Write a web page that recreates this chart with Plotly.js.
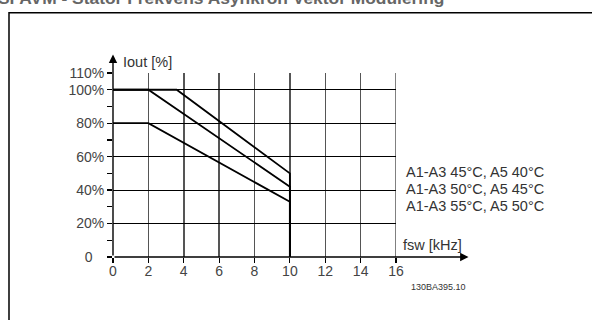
<!DOCTYPE html>
<html>
<head>
<meta charset="utf-8">
<script src="https://cdn.plot.ly/plotly-3.0.1.min.js"></script>
<style>html,body{margin:0;padding:0;background:#fff;}#chart{width:592px;height:320px;}</style>
</head>
<body>
<div id="chart"></div>
<script>
// Data (fsw in kHz, Iout in %)
const seriesNames = ["A1-A3 45°C, A5 40°C", "A1-A3 50°C, A5 45°C", "A1-A3 55°C, A5 50°C"];
const fsw45 = [0, 3.6, 10, 10];
const iout45 = [100, 100, 50, 0];
const fsw50 = [0, 2, 10, 10];
const iout50 = [100, 100, 42, 0];
const fsw55 = [0, 2, 10, 10];
const iout55 = [80, 80, 33, 0];
const xTicks = [0, 2, 4, 6, 8, 10, 12, 14, 16];
const yTicks = [0, 20, 40, 60, 80, 100, 110];
const yTickText = ["0\u00a0\u00a0\u00a0", "20%", "40%", "60%", "80%", "100%", "110%"];

const font = "Liberation Sans, Arial, sans-serif";
const lineStyle = {color: "#000", width: 1.8};
const traces = [
  {x: fsw45, y: iout45, name: seriesNames[0]},
  {x: fsw50, y: iout50, name: seriesNames[1]},
  {x: fsw55, y: iout55, name: seriesNames[2]}
].map(t => Object.assign(t, {type: "scatter", mode: "lines", line: lineStyle, showlegend: false, hoverinfo: "skip", cliponaxis: false}));

const txt = {family: font, size: 14.5, color: "#333"};
const annotations = [
  {xref: "x", yref: "y", axref: "x", ayref: "y", x: 0, y: 121, ax: 0, ay: 0, showarrow: true, arrowhead: 2, arrowsize: 1.2, arrowwidth: 1.4, arrowcolor: "#000", text: ""},
  {xref: "x", yref: "y", axref: "x", ayref: "y", x: 20.1, y: 0, ax: 0, ay: 0, showarrow: true, arrowhead: 2, arrowsize: 1.2, arrowwidth: 1.4, arrowcolor: "#000", text: ""},
  {xref: "paper", yref: "paper", x: 0.028, y: 1.061, text: "Iout [%]", showarrow: false, xanchor: "left", yanchor: "middle", font: txt},
  {xref: "paper", yref: "paper", x: 1.018, y: 0.065, text: "fsw [kHz]", showarrow: false, xanchor: "left", yanchor: "middle", font: txt},
  {xref: "paper", yref: "paper", x: 1.0, y: -0.163, text: "130BA395.10", showarrow: false, xanchor: "left", yanchor: "middle", xshift: 13, font: {family: font, size: 9, color: "#333"}}
];
const legendY = [0.462, 0.368, 0.275];
seriesNames.forEach((n, i) => annotations.push({xref: "paper", yref: "paper", x: 1.028, y: legendY[i], text: n, showarrow: false, xanchor: "left", yanchor: "middle", font: txt}));
annotations.push({xref: "paper", yref: "paper", x: -0.415, y: 1.345, text: "<b>SFAVM - Stator Frekvens Asynkron Vektor Modulering</b>", showarrow: false, xanchor: "left", yanchor: "bottom", font: {family: font, size: 17.4, color: "#666"}});

const layout = {
  width: 592, height: 320,
  margin: {l: 113, r: 196, t: 73, b: 63, pad: 0},
  paper_bgcolor: "#fff", plot_bgcolor: "#fff",
  showlegend: false,
  xaxis: {range: [0, 16], tickvals: xTicks, ticktext: xTicks.map(String), showgrid: true, gridcolor: "#555", gridwidth: 1.5,
          zeroline: false, showline: false, ticks: "outside", ticklen: 5, tickwidth: 1.2, tickcolor: "#000", ticklabelstandoff: -4,
          tickfont: {family: font, size: 14, color: "#444"}, fixedrange: true},
  yaxis: {range: [0, 110], tickvals: yTicks, ticktext: yTickText, showgrid: true, gridcolor: "#000", gridwidth: 1,
          zeroline: false, showline: false, ticks: "outside", ticklen: 5, tickwidth: 1.2, tickcolor: "#000",
          minor: {dtick: 10, tick0: 0, ticks: "outside", ticklen: 5, tickwidth: 1.2, tickcolor: "#000", showgrid: false},
          tickfont: {family: font, size: 14, color: "#444"}, fixedrange: true},
  shapes: [
    {type: "line", xref: "x", yref: "y", x0: 16, x1: 16, y0: 0, y1: 110, line: {color: "#000", width: 1}},
    {type: "rect", xref: "paper", yref: "paper", x0: -0.3675, x1: 2, y0: -1, y1: 1.328, line: {color: "#000", width: 1.5}, fillcolor: "rgba(0,0,0,0)"}
  ],
  annotations: annotations
};
Plotly.newPlot("chart", traces, layout, {displayModeBar: false, staticPlot: true});
</script>
</body>
</html>
